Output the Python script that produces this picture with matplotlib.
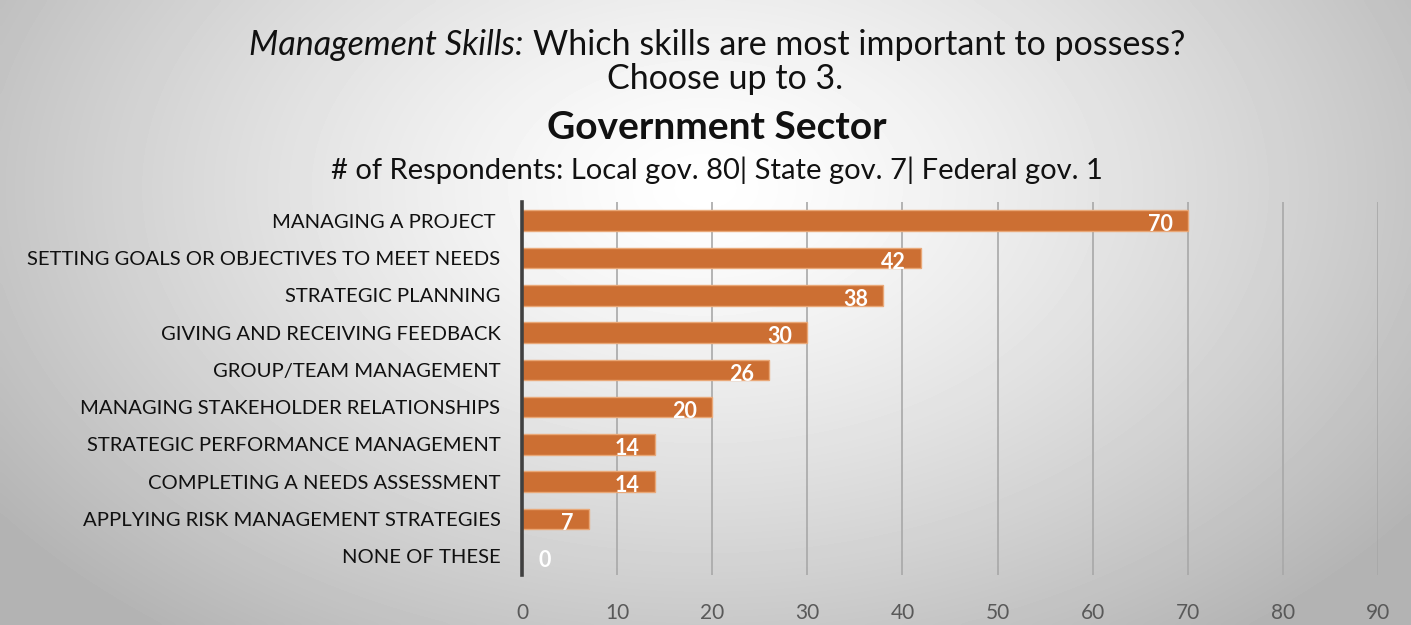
import numpy as np
import matplotlib.pyplot as plt

plt.rcParams["font.family"] = ["Lato", "DejaVu Sans"]

# survey answers, top row first
skills = [
    "MANAGING A PROJECT ",
    "SETTING GOALS OR OBJECTIVES TO MEET NEEDS",
    "STRATEGIC PLANNING",
    "GIVING AND RECEIVING FEEDBACK",
    "GROUP/TEAM MANAGEMENT",
    "MANAGING STAKEHOLDER RELATIONSHIPS",
    "STRATEGIC PERFORMANCE MANAGEMENT",
    "COMPLETING A NEEDS ASSESSMENT",
    "APPLYING RISK MANAGEMENT STRATEGIES",
    "NONE OF THESE",
]
counts = [70, 42, 38, 30, 26, 20, 14, 14, 7, 0]
x_ticks = [0, 10, 20, 30, 40, 50, 60, 70, 80, 90]

BAR = "#cc6f33"
BAR_EDGE = "#e9a878"
TEXT = "#111111"
TICK = "#595959"

W, H = 1411, 625
CX = 717 / W  # horizontal centre of the title block
fig = plt.figure(figsize=(W / 100, H / 100), dpi=100)

# soft radial backdrop: bright near the top middle, greyer towards the edges
bg = fig.add_axes([0, 0, 1, 1], zorder=0)
gx, gy = np.meshgrid(np.linspace(0, 1, 400), np.linspace(0, 1, 200))
r = np.sqrt(((gx - 0.5) / 0.75) ** 2 + ((gy - 0.3) / 1.1) ** 2)
shade = np.clip(1.0 - 0.38 * r ** 1.3, 0.7, 1.0)
bg.imshow(shade, cmap="gray", vmin=0, vmax=1, extent=[0, 1, 0, 1],
          aspect="auto", origin="upper", interpolation="bicubic")
bg.axis("off")

# first title line: italic lead-in followed by the question, centred as one
y1 = 1 - 45 / H
t1a = fig.text(0, y1, "Management Skills:", fontsize=24.5, style="italic",
               color=TEXT, va="center", ha="left")
t1b = fig.text(0, y1, "Which skills are most important to possess?",
               fontsize=24.5, color=TEXT, va="center", ha="left")
fig.canvas.draw()
wa = t1a.get_window_extent().width
wb = t1b.get_window_extent().width
gap = 9
start = CX * W - (wa + gap + wb) / 2
t1a.set_x(start / W)
t1b.set_x((start + wa + gap) / W)

fig.text(725 / W, 1 - 79 / H, "Choose up to 3.", fontsize=24.5, color=TEXT,
         ha="center", va="center")
fig.text(CX, 1 - 127 / H, "Government Sector", fontsize=28, fontweight="bold",
         color=TEXT, ha="center", va="center")
fig.text(CX, 1 - 170 / H,
         "# of Respondents: Local gov. 80| State gov. 7| Federal gov. 1",
         fontsize=21, color=TEXT, ha="center", va="center")

ax = fig.add_axes([522 / W, 1 - 575 / H, (1378 - 522) / W, (575 - 202) / H], zorder=1)
ax.patch.set_alpha(0)

y = np.arange(len(skills))
ax.barh(y, counts, height=0.55, color=BAR, edgecolor=BAR_EDGE, linewidth=1.0, zorder=3)

for yi, v in zip(y, counts):
    if v > 0:
        ax.annotate(str(v), (v, yi), xytext=(-11, -3), textcoords="offset points",
                    ha="right", va="center", color="white", fontsize=15.5,
                    fontweight="bold", zorder=4)
    else:
        ax.annotate(str(v), (v, yi), xytext=(12, -3), textcoords="offset points",
                    ha="left", va="center", color="white", fontsize=15.5,
                    fontweight="bold", zorder=4)

ax.set_xlim(0, 90)
ax.set_ylim(len(skills) - 0.5, -0.5)
ax.set_xticks(x_ticks)
ax.set_yticks(y, skills)
ax.tick_params(axis="both", length=0)
ax.tick_params(axis="x", pad=20, labelsize=15, labelcolor=TICK)
ax.tick_params(axis="y", pad=15.5, labelsize=14.6, labelcolor=TEXT)

for xv in x_ticks[1:]:
    ax.axvline(xv, color="#a8a8a8", lw=1.2, zorder=1)

for side in ["top", "right", "bottom"]:
    ax.spines[side].set_visible(False)
ax.spines["left"].set_color("#404040")
ax.spines["left"].set_linewidth(2.6)
ax.spines["left"].set_zorder(5)

fig.savefig("out.png", dpi=100)
